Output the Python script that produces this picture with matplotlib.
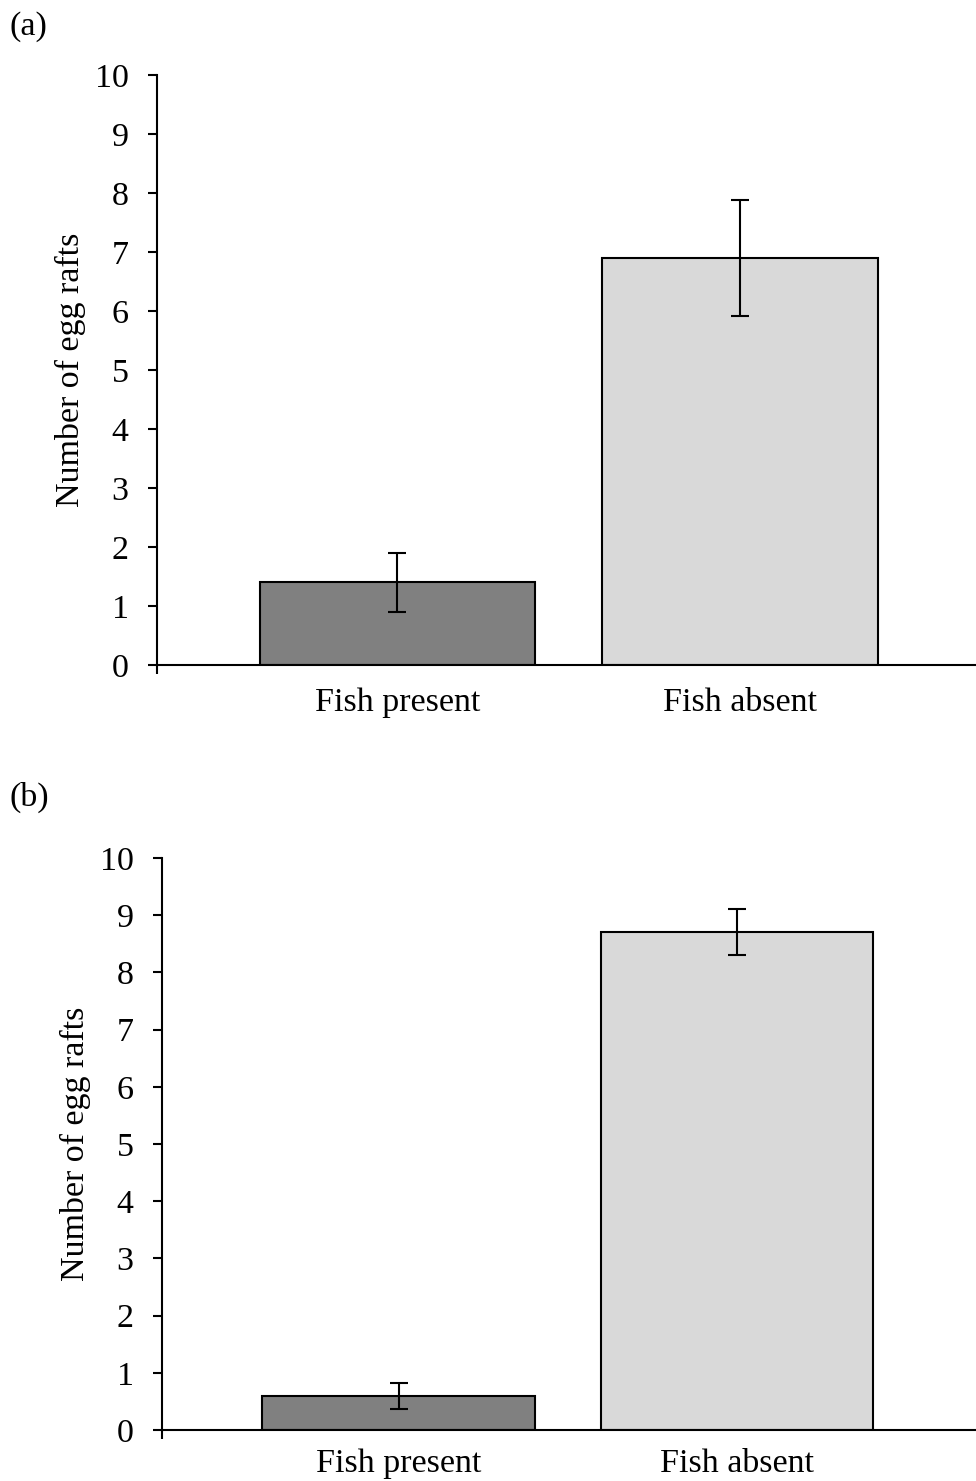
import numpy as np
import matplotlib.pyplot as plt

# data
categories = ['Fish present', 'Fish absent']
means_a = [1.4, 6.9]
errs_a = [0.5, 0.98]
means_b = [0.6, 8.7]
errs_b = [0.23, 0.4]
bar_colors = ['#808080', '#d9d9d9']

plt.rcParams['font.family'] = ['Liberation Serif', 'DejaVu Serif']

fig = plt.figure(figsize=(9.76, 14.81), dpi=100)


def draw_panel(rect, means, errs, xlim, letter, letter_y, xpad):
    ax = fig.add_axes(rect)
    x = np.arange(len(categories))
    ax.bar(x, means, width=0.803, color=bar_colors, edgecolor='black', linewidth=1.5, zorder=2)
    ax.errorbar(x, means, yerr=errs, fmt='none', ecolor='black', elinewidth=1.5,
                capsize=6.5, capthick=1.5, zorder=3)
    ax.set_xlim(*xlim)
    ax.set_ylim(0, 10)
    ax.set_yticks(range(0, 11))
    ax.set_xticks(x)
    ax.set_xticklabels(categories)
    # small tick at the left end of the category axis
    ax.set_xticks([xlim[0]], minor=True)
    ax.tick_params(axis='x', which='major', length=0, pad=xpad, labelsize=24.5)
    ax.tick_params(axis='x', which='minor', length=6.5, width=1.5, direction='out')
    ax.tick_params(axis='y', length=6.5, width=1.5, direction='out', pad=14, labelsize=24.5)
    for s in ['top', 'right']:
        ax.spines[s].set_visible(False)
    for s in ['left', 'bottom']:
        ax.spines[s].set_linewidth(1.5)
    ax.set_ylabel('Number of egg rafts', fontsize=24.5, labelpad=6)
    fig.text(0.01, letter_y, letter, fontsize=24.5, va='center', ha='left')
    return ax


draw_panel([157 / 976, 1 - 665 / 1481, 1 - 157 / 976, 590 / 1481],
           means_a, errs_a, (-0.702, 1.689), '(a)', 1 - 27 / 1481, 16)
draw_panel([162 / 976, 1 - 1430 / 1481, 1 - 162 / 976, 572 / 1481],
           means_b, errs_b, (-0.698, 1.704), '(b)', 1 - 797 / 1481, 13)

fig.savefig('out.png', dpi=100)
